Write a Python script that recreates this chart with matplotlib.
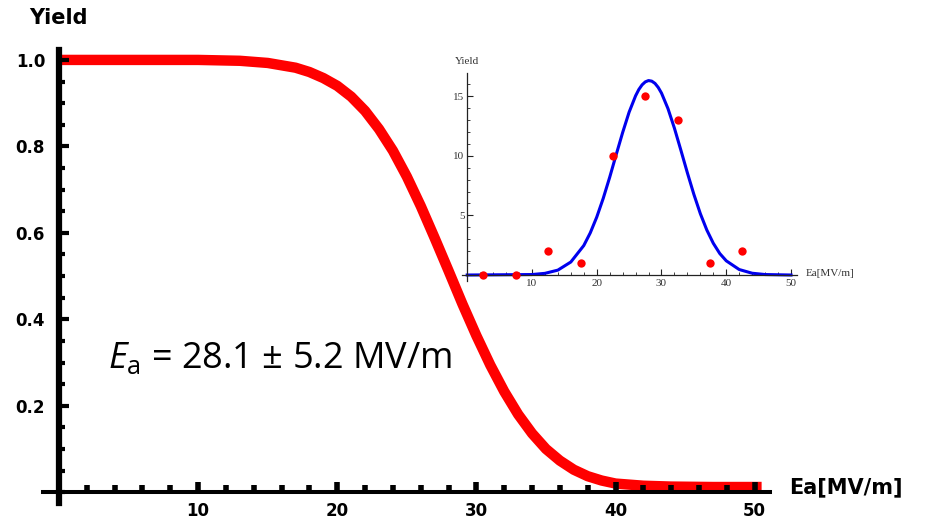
import matplotlib as mpl
mpl.use('Agg')
import matplotlib.pyplot as plt
from matplotlib.ticker import MultipleLocator

# main panel: yield vs accelerating field
field = [0, 10, 13, 15, 17, 18, 19, 20, 21, 22, 23, 24, 25, 26, 27, 28, 29,
         30, 31, 32, 33, 34, 35, 36, 37, 38, 39, 40, 42, 44, 47, 50.5]
yield_frac = [1.0, 1.0, 0.998, 0.993, 0.982, 0.972, 0.958, 0.940, 0.915,
              0.882, 0.840, 0.790, 0.730, 0.662, 0.588, 0.512, 0.435, 0.362,
              0.294, 0.233, 0.180, 0.136, 0.100, 0.073, 0.052, 0.037, 0.027,
              0.020, 0.015, 0.013, 0.012, 0.012]
y_ticks = [0.2, 0.4, 0.6, 0.8, 1.0]
x_ticks = [10, 20, 30, 40, 50]

# inset: histogram counts and gaussian fit
bin_centres = [2.5, 7.5, 12.5, 17.5, 22.5, 27.5, 32.5, 37.5, 42.5]
counts = [0, 0, 2, 1, 10, 15, 13, 1, 2]
fit_x = [0, 10, 12, 14, 16, 18, 19, 20, 21, 22, 23, 24, 25, 26, 26.5, 27,
         27.5, 28, 28.5, 29, 29.5, 30, 31, 32, 33, 34, 35, 36, 37, 38, 39,
         40, 42, 44, 46, 50]
fit_y = [0.0, 0.04, 0.14, 0.41, 1.09, 2.47, 3.53, 4.85, 6.42, 8.19, 10.08,
         11.94, 13.65, 15.02, 15.55, 15.94, 16.19, 16.30, 16.25, 16.06, 15.72,
         15.25, 13.95, 12.30, 10.45, 8.56, 6.76, 5.14, 3.77, 2.66, 1.80,
         1.19, 0.46, 0.15, 0.04, 0.0]

bold_font = 'DejaVu Sans'

fig = plt.figure(figsize=(9.27, 5.25), dpi=100)
ax = fig.add_axes([0.0464, 0.0419, 0.7842, 0.8629])
ax.plot(field, yield_frac, color='red', lw=7.5, solid_capstyle='butt',
        solid_joinstyle='round', zorder=1)
ax.set_xlim(-1.15, 51.1)
ax.set_ylim(-0.025, 1.023)
for s in ['top', 'right']:
    ax.spines[s].set_visible(False)
ax.spines['left'].set_position(('data', 0))
ax.spines['bottom'].set_position(('data', 0))
ax.spines['left'].set_linewidth(4.5)
ax.spines['bottom'].set_linewidth(2.9)
ax.set_xticks(x_ticks)
ax.set_yticks(y_ticks)
ax.xaxis.set_minor_locator(MultipleLocator(2))
ax.yaxis.set_minor_locator(MultipleLocator(0.05))
ax.tick_params(axis='y', which='major', direction='in', length=7.5, width=3, pad=10)
ax.tick_params(axis='y', which='minor', direction='in', length=4.5, width=3)
ax.tick_params(axis='x', which='major', direction='in', length=7.5, width=4, pad=7)
ax.tick_params(axis='x', which='minor', direction='in', length=5, width=4)
ax.set_xticklabels([str(t) for t in x_ticks], family=bold_font,
                   fontweight='heavy', fontsize=12)
ax.set_yticklabels(['%.1f' % t for t in y_ticks], family=bold_font,
                   fontweight='heavy', fontsize=12)
ax.patch.set_alpha(0)

fig.text(0.031, 0.966, 'Yield', family=bold_font, fontweight='heavy',
         fontsize=15, ha='left', va='center')
fig.text(0.851, 0.072, 'Ea[MV/m]', family=bold_font, fontweight='heavy',
         fontsize=15, ha='left', va='center')

mpl.rcParams['mathtext.fontset'] = 'custom'
mpl.rcParams['mathtext.rm'] = 'Open Sans'
mpl.rcParams['mathtext.it'] = 'Open Sans:italic'
fig.text(0.116, 0.299, r'$E_\mathrm{a}$ = 28.1 ± 5.2 MV/m', family='Open Sans',
         fontsize=26, ha='left', va='baseline')

# inset
axi = fig.add_axes([0.4984, 0.4648, 0.3619, 0.3954])
axi.patch.set_alpha(0)
axi.plot(fit_x, fit_y, color='#0000ee', lw=2.2, zorder=2)
axi.plot(bin_centres, counts, 'o', color='red', ms=6, mec='none', zorder=3,
         clip_on=False)
axi.set_xlim(-0.8, 51)
axi.set_ylim(-0.5, 16.9)
for s in ['top', 'right']:
    axi.spines[s].set_visible(False)
axi.spines['left'].set_position(('data', 0))
axi.spines['bottom'].set_position(('data', 0))
for s in ['left', 'bottom']:
    axi.spines[s].set_linewidth(0.9)
    axi.spines[s].set_color('#222222')
axi.set_xticks([10, 20, 30, 40, 50])
axi.set_yticks([5, 10, 15])
axi.xaxis.set_minor_locator(MultipleLocator(2))
axi.yaxis.set_minor_locator(MultipleLocator(1))
axi.tick_params(which='major', direction='in', length=4, width=0.8,
                colors='#222222', labelsize=8)
axi.tick_params(which='minor', direction='in', length=2.2, width=0.6,
                colors='#222222')
axi.tick_params(axis='y', pad=2)
axi.tick_params(axis='x', pad=3)
for lab in axi.get_xticklabels() + axi.get_yticklabels():
    lab.set_family('Liberation Serif')
    lab.set_color('#333333')
axi.text(0, 17.9, 'Yield', family='Liberation Serif', fontsize=8,
         color='#333333', ha='center', va='center', clip_on=False)
axi.text(52.2, 0.1, 'Ea[MV/m]', family='Liberation Serif', fontsize=8,
         color='#333333', ha='left', va='center', clip_on=False)

fig.savefig('out.png', dpi=100)
